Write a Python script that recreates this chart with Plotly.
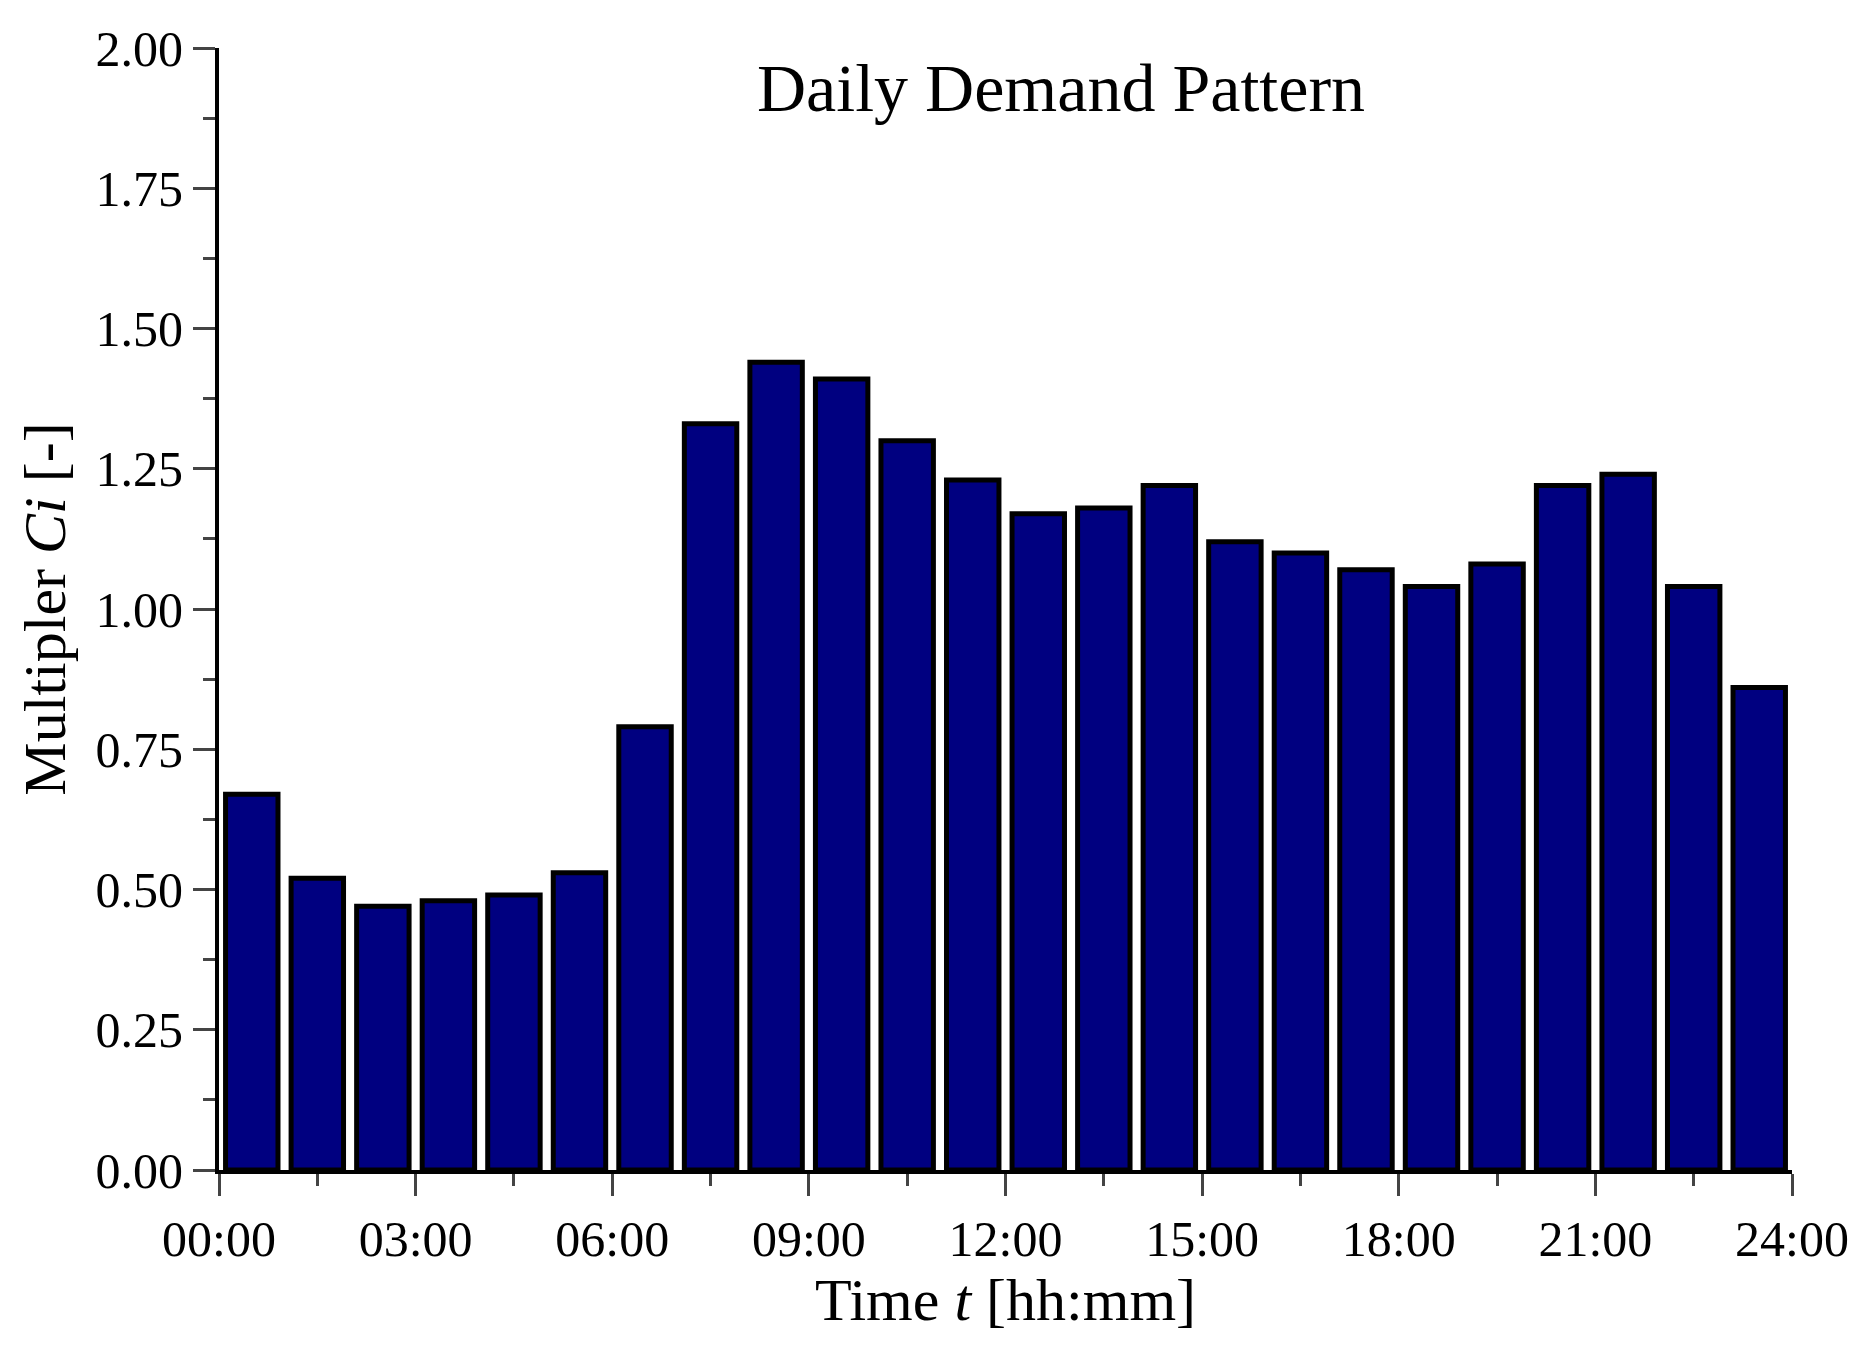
import plotly.graph_objects as go

hours = list(range(24))
values = [0.67,0.52,0.47,0.48,0.49,0.53,0.79,1.33,1.44,1.41,1.30,1.23,
          1.17,1.18,1.22,1.12,1.10,1.07,1.04,1.08,1.22,1.24,1.04,0.86]
tick_vals = [0,3,6,9,12,15,18,21,24]
tick_text = ["00:00","03:00","06:00","09:00","12:00","15:00","18:00","21:00","24:00"]

font = "Liberation Serif"
fig = go.Figure(go.Bar(x=[h+0.5 for h in hours], y=values, width=0.8,
                       marker=dict(color="#000080", line=dict(color="black", width=5))))
fig.update_layout(
    width=1869, height=1345, plot_bgcolor="white", paper_bgcolor="white",
    margin=dict(l=211, r=85, t=37, b=183), showlegend=False,
    font=dict(family=font, size=50, color="black"),
    annotations=[dict(text="Daily Demand Pattern", x=0.535, y=1.0, xref="paper", yref="paper",
                      xanchor="center", yanchor="top", showarrow=False, font=dict(size=68))],
)
fig.update_xaxes(range=[0,24], tickvals=tick_vals, ticktext=tick_text, ticks="outside",
                 ticklen=22, tickwidth=3, linewidth=4, linecolor="black", showgrid=False,
                 zeroline=False, minor=dict(tickvals=[1.5,4.5,7.5,10.5,13.5,16.5,19.5,22.5], ticks="outside", ticklen=12, tickwidth=3),
                 title=dict(text="Time <i>t</i> [hh:mm]", font=dict(size=60), standoff=8))
fig.update_yaxes(range=[0,2], tickvals=[0,0.25,0.5,0.75,1,1.25,1.5,1.75,2], tickformat=".2f",
                 ticks="outside", ticklen=22, tickwidth=3, linewidth=4, linecolor="black",
                 showgrid=False, zeroline=False,
                 minor=dict(dtick=0.125, ticks="outside", ticklen=12, tickwidth=3),
                 title=dict(text="Multipler <i>Ci</i> [-]", font=dict(size=60), standoff=12))
fig.write_html("out.html")
